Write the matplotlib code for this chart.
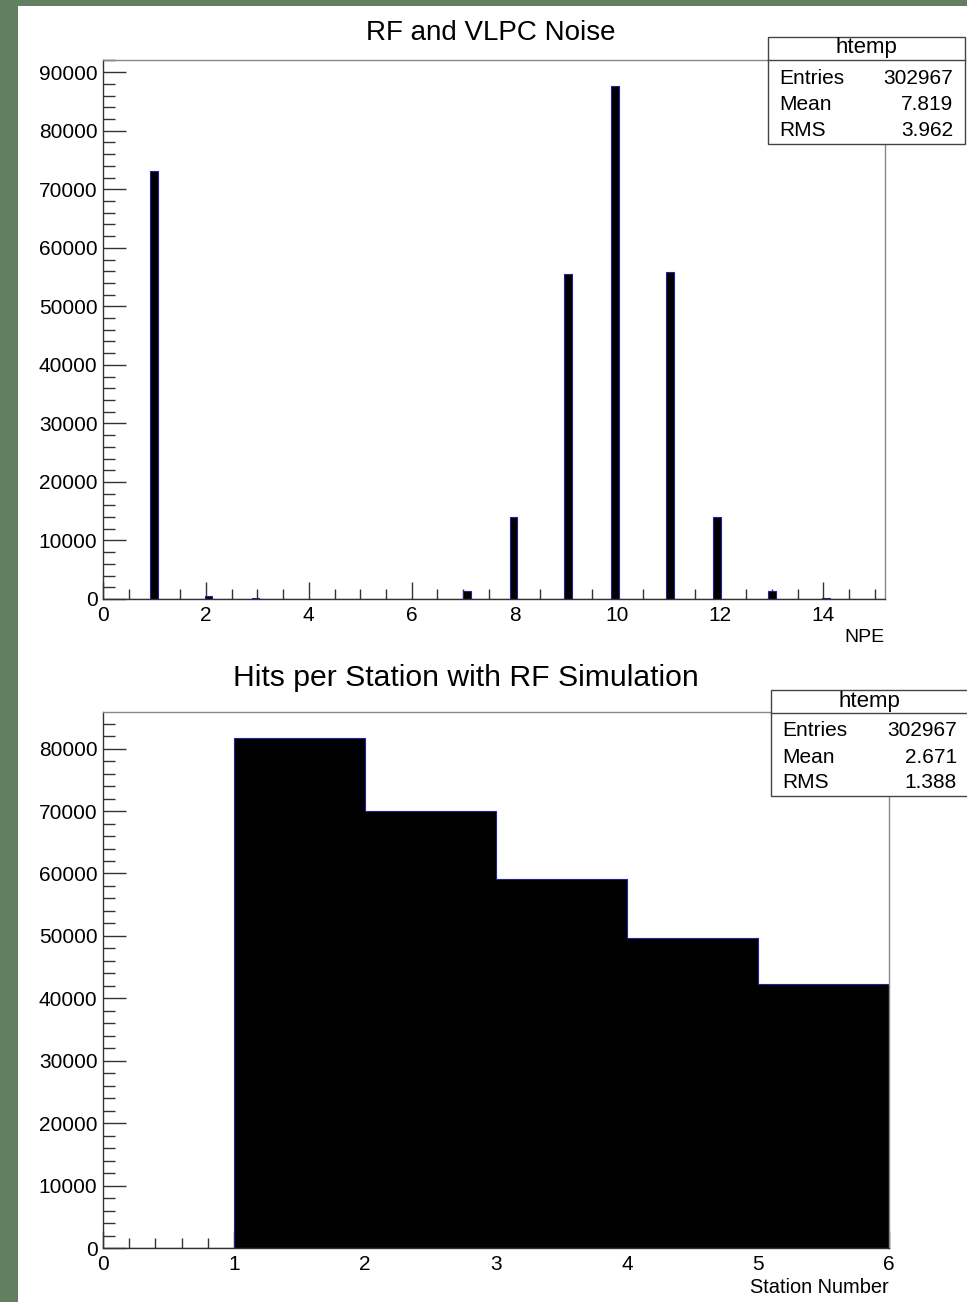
import numpy as np
import matplotlib
matplotlib.use('Agg')
import matplotlib.pyplot as plt
from matplotlib.ticker import MultipleLocator
from matplotlib.patches import Rectangle

plt.rcParams['font.family'] = ['Liberation Sans', 'DejaVu Sans']

# datos
npe_vals = [1, 2, 3, 4, 5, 6, 7, 8, 9, 10, 11, 12, 13, 14]
npe_counts = [73100, 500, 150, 0, 0, 80, 1400, 14000, 55600, 87700, 55800, 14000, 1400, 100]
npe_stats = [("Entries", "302967"), ("Mean", "7.819"), ("RMS", "3.962")]

station_vals = [1, 2, 3, 4, 5]
station_counts = [81780, 70030, 59180, 49630, 42260]
station_stats = [("Entries", "302967"), ("Mean", "2.671"), ("RMS", "1.388")]

W, H = 967, 1302
fig = plt.figure(figsize=(W / 100, H / 100), dpi=100)
fig.patch.set_facecolor('#62805f')


def fx(x):
    return x / W


def fy(y):
    return 1 - y / H


# fondo blanco del canvas
fig.patches.append(Rectangle((fx(18), 0), 1 - fx(18), fy(6), transform=fig.transFigure,
                             facecolor='white', edgecolor='none', zorder=-5))

fill = 'black'
edge = '#2020a0'


def make_axes(l, t, r, b):
    ax = fig.add_axes([fx(l), fy(b), fx(r) - fx(l), fy(t) - fy(b)])
    ax.set_facecolor('white')
    ax.set_axisbelow(True)  # las barras tapan los ticks
    for s in ['left', 'bottom']:
        ax.spines[s].set_color('#333333')
    for s in ['top', 'right']:
        ax.spines[s].set_color('#888888')
    for s in ax.spines.values():
        s.set_linewidth(1.0)
        s.set_zorder(5)
    ax.tick_params(which='both', direction='in', top=False, right=False,
                   colors='#333333', labelcolor='black', labelsize=15, width=1.0)
    ax.tick_params(axis='y', which='major', length=16.5, pad=4)
    ax.tick_params(axis='y', which='minor', length=8.6)
    ax.tick_params(axis='x', which='major', length=12.2, pad=5)
    ax.tick_params(axis='x', which='minor', length=7)
    return ax


def stats_box(l, t, r, b, sep, rows, name_y, row_ys, tx_l, tx_r):
    fig.patches.append(Rectangle((fx(l), fy(b)), fx(r) - fx(l), fy(t) - fy(b),
                                 transform=fig.transFigure, facecolor='white',
                                 edgecolor='#444444', linewidth=1.0, zorder=10))
    fig.lines.append(plt.Line2D([fx(l), fx(r)], [fy(sep), fy(sep)], transform=fig.transFigure,
                                color='#444444', linewidth=1.0, zorder=11))
    fig.text(fx((l + min(r, W)) / 2), fy(name_y), "htemp", ha='center', va='center', fontsize=16, zorder=12)
    for (k, v), yy in zip(rows, row_ys):
        fig.text(fx(tx_l), fy(yy), k, ha='left', va='center', fontsize=15, zorder=12)
        fig.text(fx(tx_r), fy(yy), v, ha='right', va='center', fontsize=15, zorder=12)


# ---- panel superior ----
ax1 = make_axes(103, 60, 885, 599)
ax1.hist(npe_vals, bins=100, range=(0, 15.2), weights=npe_counts, histtype='stepfilled',
         facecolor=fill, edgecolor=edge, linewidth=0.8)
ax1.set_xlim(0, 15.2)
ax1.set_ylim(0, 1.05 * max(npe_counts))
ax1.xaxis.set_major_locator(MultipleLocator(2))
ax1.xaxis.set_minor_locator(MultipleLocator(0.5))
ax1.yaxis.set_major_locator(MultipleLocator(10000))
ax1.yaxis.set_minor_locator(MultipleLocator(2000))
ax1.set_xlabel('NPE', loc='right', fontsize=14, labelpad=3)
fig.text(fx(491), fy(33), 'RF and VLPC Noise', ha='center', va='center', fontsize=20)
stats_box(768, 37, 965, 144, 60, npe_stats, 48, [78, 104, 130], 779, 953)

# ---- panel inferior ----
ax2 = make_axes(103, 712, 889, 1248)
ax2.hist(station_vals, bins=6, range=(0, 6), weights=station_counts, histtype='stepfilled',
         facecolor=fill, edgecolor=edge, linewidth=0.8)
ax2.set_xlim(0, 6)
ax2.set_ylim(0, 1.05 * max(station_counts))
ax2.xaxis.set_major_locator(MultipleLocator(1))
ax2.xaxis.set_minor_locator(MultipleLocator(0.2))
ax2.yaxis.set_major_locator(MultipleLocator(10000))
ax2.yaxis.set_minor_locator(MultipleLocator(2000))
ax2.set_xlabel('Station Number', loc='right', fontsize=14.4, labelpad=3)
fig.text(fx(466), fy(678), 'Hits per Station with RF Simulation', ha='center', va='center', fontsize=21.7)
stats_box(771, 690, 970, 796, 713, station_stats, 702, [730, 757, 783], 782, 957)

fig.savefig('out.png', dpi=100)
